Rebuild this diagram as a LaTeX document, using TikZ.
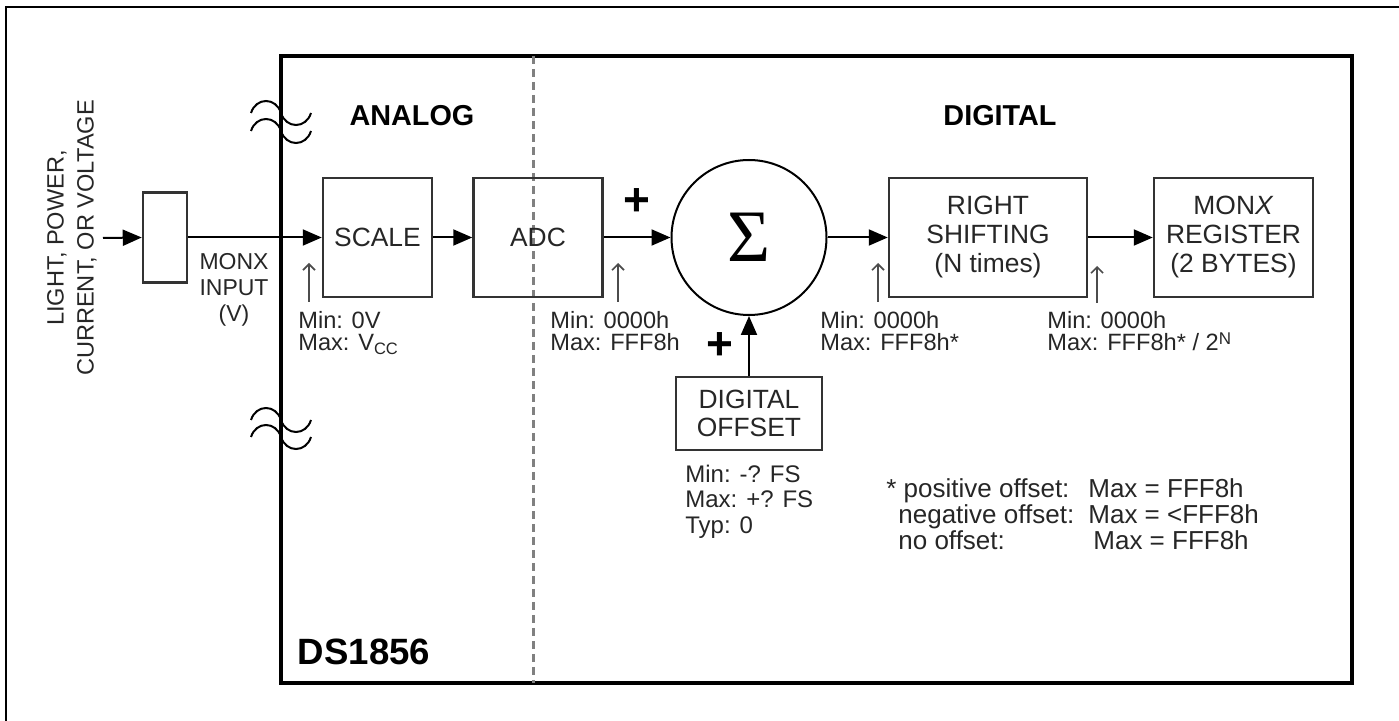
\documentclass[tikz,border=0pt]{standalone}
\usepackage{fontspec}
\setmainfont{Liberation Sans}
\newfontfamily\dsSerif{Liberation Serif}
\usetikzlibrary{arrows.meta}
\newcommand\dsBoxFont{\fontsize{13.2}{14.5}\selectfont}
\newcommand\dsSmallFont{\fontsize{11.8}{11.2}\selectfont}
\newcommand\dsOffFont{\fontsize{12}{12.6}\selectfont}
\newcommand\dsNoteFont{\fontsize{13}{11.6}\selectfont}
\newcommand\dsRotFont{\fontsize{11.8}{15}\selectfont}
\newcommand\dsInFont{\fontsize{11.5}{13}\selectfont}
\newcommand\dsHdrFont{\fontsize{14.4}{17}\selectfont\bfseries}
\newcommand\dsTitleFont{\fontsize{18.3}{22}\selectfont\bfseries}
\newcommand\dsPlusFont{\fontsize{23}{23}\selectfont\bfseries}
\begin{document}
\begin{tikzpicture}[x=0.5pt,y=-0.5pt,
  box/.style={draw=black!80, line width=1.25pt, align=center, font=\dsBoxFont, text=black!85, inner sep=0pt},
  arr/.style={line width=1pt, -{Triangle[length=9.5pt,width=8pt]}},
  uparr/.style={line width=0.8pt, draw=black!70, -{Straight Barb[length=3pt,width=6pt]}},
  lbl/.style={font=\dsSmallFont, text=black!85, align=left, inner sep=0pt, anchor=north west},
  brk/.style={line width=1pt},
  hdr/.style={font=\dsHdrFont, inner sep=0pt},
  plus/.style={font=\dsPlusFont, inner sep=0pt},
]
\useasboundingbox (0,0) rectangle (1399,721);
% outer frame (cropped)
\draw[line width=1pt] (6,721) -- (6,7) -- (1399,7);
% chip frame
\draw[line width=2pt] (281,56) rectangle (1352,683);
\draw[black!50, line width=1.5pt, dash pattern=on 4pt off 2.5pt] (533,56) -- (533,683);
% break marks
\foreach \yc in {113,131,420,437}{
  \draw[brk] (251,\yc) .. controls (256,\yc-16) and (276,\yc-16) .. (281,\yc)
                      .. controls (286,\yc+16) and (306,\yc+16) .. (311,\yc);
}
% headers
\node[hdr] (analog) at (412,116) {ANALOG};
\node[hdr] (digital) at (1000,116) {DIGITAL};
\node[font=\dsTitleFont, inner sep=0pt] (chip) at (364,652) {DS1856};
% source text
\node[font=\dsRotFont, text=black!85, rotate=90, align=center, inner sep=0pt] (srctext) at (72,238) {LIGHT, POWER,\\CURRENT, OR VOLTAGE};
% blocks
\node[draw=black!80, line width=1.25pt, minimum width=22pt, minimum height=45pt, inner sep=0pt] (inbox) at (165,237.5) {};
\node[box, minimum width=54.5pt, minimum height=59.5pt] (scale) at (377.5,237.5) {SCALE};
\node[box, minimum width=64.5pt, minimum height=59.5pt] (adc) at (538,237.5) {ADC};
\node[circle, draw, line width=1pt, minimum size=77.5pt, inner sep=0pt] (sum) at (749,237.5) {\dsSerif\fontsize{37}{40}\selectfont Σ};
\node[box, minimum width=99pt, minimum height=59.5pt] (shift) at (988,237.5) {RIGHT\\SHIFTING\\(N times)};
\node[box, minimum width=79.5pt, minimum height=59.5pt] (reg) at (1233.5,237.5) {MON\textit{X}\\REGISTER\\(2 BYTES)};
\node[box, minimum width=73pt, minimum height=36.5pt, font=\fontsize{13.2}{14}\selectfont] (offset) at (749,413.5) {DIGITAL\\OFFSET};
% connectors
\coordinate (srcend) at (103,238);
\draw[arr] (srcend) -- (inbox.west);
\draw[arr] (inbox.east) -- (scale.west);
\draw[arr] (scale.east) -- (adc.west);
\draw[arr] (adc.east) -- (sum.west);
\draw[arr] (sum.east) -- (shift.west);
\draw[arr] (shift.east) -- (reg.west);
\draw[arr] (offset.north) -- (sum.south);
% plus signs
\node[plus] (p1) at (637,202) {+};
\node[plus] (p2) at (720,346) {+};
% input label
\node[font=\dsInFont, text=black!85, align=center, inner sep=0pt] (monxin) at (234,290) {MONX\\INPUT\\(V)};
% up arrows
\coordinate (a1s) at (309,302); \coordinate (a1e) at (309,263);
\coordinate (a2s) at (618,302); \coordinate (a2e) at (618,263);
\coordinate (a3s) at (878,302); \coordinate (a3e) at (878,263);
\coordinate (a4s) at (1097,303); \coordinate (a4e) at (1097,266);
\draw[uparr] (a1s) -- (a1e);
\draw[uparr] (a2s) -- (a2e);
\draw[uparr] (a3s) -- (a3e);
\draw[uparr] (a4s) -- (a4e);
% range labels
\node[lbl] (r1) at (298,311) {Min: 0V\\Max: V\textsubscript{CC}};
\node[lbl] (r2) at (550,311) {Min: 0000h\\Max: FFF8h};
\node[lbl] (r3) at (820,311) {Min: 0000h\\Max: FFF8h*};
\node[lbl] (r4) at (1047,311) {Min: 0000h\\Max: FFF8h* / 2\raisebox{0.55ex}{\fontsize{8.5}{8.5}\selectfont N}};
\node[lbl, font=\dsOffFont] (r5) at (685,465) {Min: -? FS\\Max: +? FS\\Typ: 0};
% footnote
\node[lbl, font=\dsNoteFont] (note) at (886,478) {\makebox[101pt][l]{* positive offset:}Max = FFF8h\\
\hspace*{6pt}\makebox[95pt][l]{negative offset:}Max = <FFF8h\\
\hspace*{6pt}\makebox[97.5pt][l]{no offset:}Max = FFF8h};
\end{tikzpicture}
\end{document}
